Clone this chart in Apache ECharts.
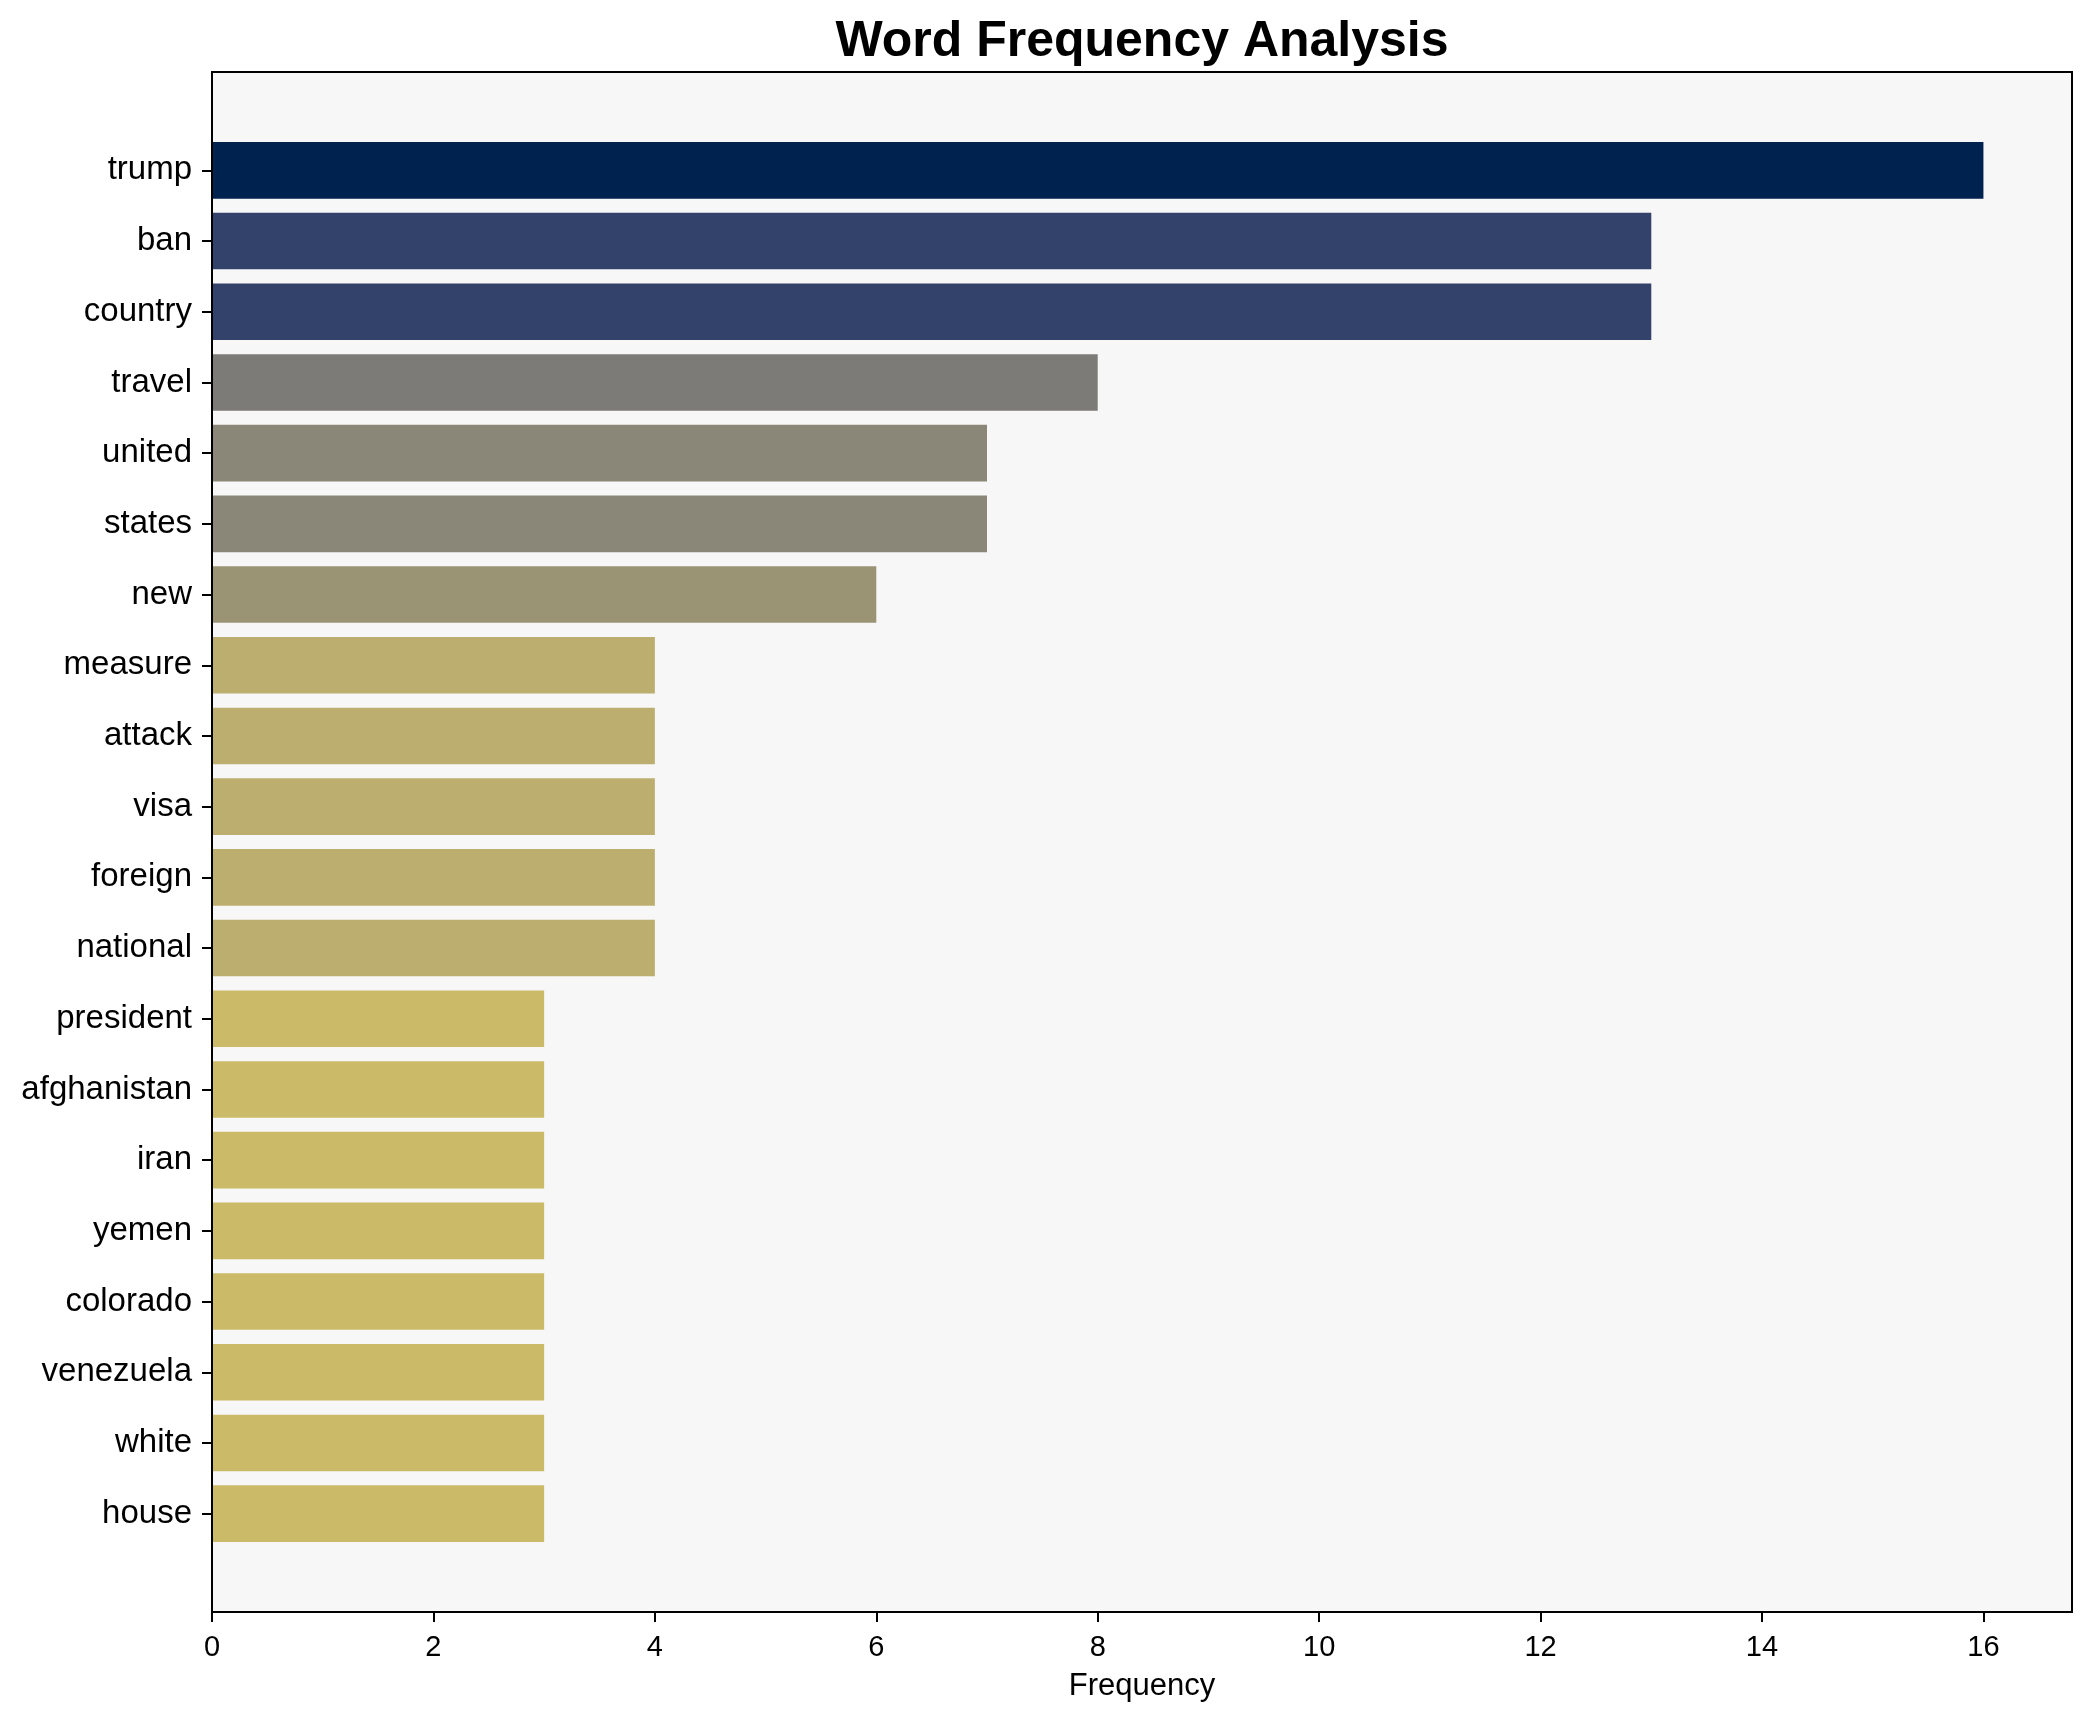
<!DOCTYPE html>
<html>
<head>
<meta charset="utf-8">
<script src="https://cdn.jsdelivr.net/npm/echarts@6/dist/echarts.min.js"></script>
<style>
html,body{margin:0;padding:0;background:#fff;}
#chart{width:2092px;height:1722px;}
</style>
</head>
<body>
<div id="chart"></div>
<script>
const words = ["trump","ban","country","travel","united","states","new","measure","attack","visa","foreign","national","president","afghanistan","iran","yemen","colorado","venezuela","white","house"];
const freqs = [16,13,13,8,7,7,6,4,4,4,4,4,3,3,3,3,3,3,3,3];
const xTicks = [0,2,4,6,8,10,12,14,16];
const xMax = 16.8;

// cividis-like colour stops (t -> colour), colour = cividis(1 - v/max)
const cmapStops = [[0,'#00224e'],[0.1875,'#32426b'],[0.5,'#7c7b78'],[0.5625,'#8b8778'],[0.625,'#9b9474'],[0.75,'#bcae6e'],[0.8125,'#cbba68'],[1,'#fee838']];
function hex2rgb(h){return [parseInt(h.substr(1,2),16),parseInt(h.substr(3,2),16),parseInt(h.substr(5,2),16)];}
function cmap(t){
  for(let i=1;i<cmapStops.length;i++){
    if(t<=cmapStops[i][0]){
      const [t0,c0]=cmapStops[i-1],[t1,c1]=cmapStops[i];
      const f=(t-t0)/(t1-t0||1);const a=hex2rgb(c0),b=hex2rgb(c1);
      return 'rgb('+a.map((v,k)=>Math.round(v+(b[k]-v)*f)).join(',')+')';
    }
  }
  return cmapStops[cmapStops.length-1][1];
}
const vmax = Math.max(...freqs);

const chart = echarts.init(document.getElementById('chart'), null, {renderer:'canvas'});
const FONT = '"Liberation Sans", Arial, Helvetica, sans-serif';
chart.setOption({
  animation:false,
  backgroundColor:'#ffffff',
  graphic:[{
    type:'text', x:1142, y:17, z:100,
    style:{text:'Word Frequency Analysis', fontFamily:FONT, fontWeight:'bold', fontSize:50, fill:'#000', textAlign:'center', textVerticalAlign:'top'}
  }],
  grid:[
    {left:212,right:20,top:72,bottom:110,show:true,backgroundColor:'#f7f7f7',borderWidth:0,z:0},
    {left:212,right:20,top:135,height:1414,show:false,z:1},
    {left:212,right:20,top:72,bottom:110,show:true,backgroundColor:'transparent',borderColor:'#000',borderWidth:2,z:10}
  ],
  xAxis:[
    {type:'value',gridIndex:0,min:0,max:xMax,interval:2,
     axisLine:{show:false},
     axisTick:{show:true,length:10,lineStyle:{color:'#000',width:2},customValues:xTicks},
     axisLabel:{color:'#000',fontSize:29,fontFamily:FONT,margin:21,customValues:xTicks},
     splitLine:{show:false},
     name:'Frequency',nameLocation:'middle',nameGap:59,
     nameTextStyle:{color:'#000',fontSize:31,fontFamily:FONT}},
    {type:'value',gridIndex:1,min:0,max:xMax,show:false},
    {type:'value',gridIndex:2,min:0,max:xMax,show:false}
  ],
  yAxis:[
    {type:'value',gridIndex:0,show:false},
    {type:'category',gridIndex:1,data:words,inverse:true,
     axisLine:{show:false},
     axisTick:{show:true,alignWithLabel:true,length:10,lineStyle:{color:'#000',width:2}},
     axisLabel:{color:'#000',fontSize:33,fontFamily:FONT,margin:20,padding:[8,0,0,0]},
     splitLine:{show:false}},
    {type:'value',gridIndex:2,show:false}
  ],
  series:[{
    type:'bar',xAxisIndex:1,yAxisIndex:1,data:freqs,barWidth:'80%',z:2,
    itemStyle:{color:function(p){return cmap(1 - p.value/vmax);}}
  }]
});
</script>
</body>
</html>
